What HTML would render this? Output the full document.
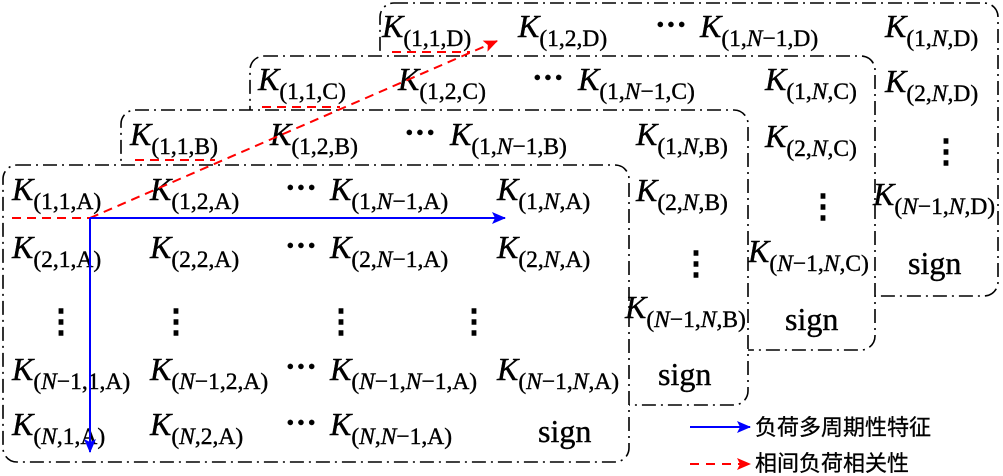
<!DOCTYPE html>
<html><head><meta charset="utf-8"><style>
html,body{margin:0;padding:0;background:#fff;}
svg{display:block;}
text{font-family:"Liberation Serif",serif;font-size:32px;fill:#000;stroke:#000;stroke-width:0.4;}
.s{font-size:23.5px;}
.i{font-style:italic;}
.d{font-weight:bold;}
.cj{font-family:"Liberation Sans","Noto Sans CJK SC",sans-serif;font-size:22px;stroke-width:0.3;}
</style></head><body>
<svg width="1003" height="476" viewBox="0 0 1003 476">
<defs>
<marker id="ab" markerWidth="14" markerHeight="12" refX="13" refY="6" orient="auto" markerUnits="userSpaceOnUse"><path d="M0,0 L14,6 L0,12 L3,6 z" fill="#0000ff"/></marker>
<marker id="ar" markerWidth="14" markerHeight="12" refX="13" refY="6" orient="auto" markerUnits="userSpaceOnUse"><path d="M0,0 L14,6 L0,12 L3,6 z" fill="#ff0000"/></marker>
</defs>
<g fill="#fff" stroke="#000" stroke-width="1.6" stroke-dasharray="14 5 2 5">
<rect x="380" y="3" width="618" height="293" rx="14"/>
<rect x="250" y="56" width="625" height="294" rx="14"/>
<rect x="121" y="110" width="627" height="295" rx="14"/>
<rect x="3" y="165" width="626" height="297" rx="14"/>
</g>
<!-- D -->
<text x="382" y="37"><tspan class="i">K</tspan><tspan class="s" dy="9">(1,1,D)</tspan></text>
<text x="518" y="37"><tspan class="i">K</tspan><tspan class="s" dy="9">(1,2,D)</tspan></text>
<text class="d" x="655" y="35">···</text>
<text x="700" y="37"><tspan class="i">K</tspan><tspan class="s" dy="9">(1,<tspan class="i">N</tspan>−1,D)</tspan></text>
<text x="885" y="37"><tspan class="i">K</tspan><tspan class="s" dy="9">(1,<tspan class="i">N</tspan>,D)</tspan></text>
<text x="885" y="92"><tspan class="i">K</tspan><tspan class="s" dy="9">(2,<tspan class="i">N</tspan>,D)</tspan></text>
<text class="d" x="930" y="162">⋮</text>
<text x="873" y="205"><tspan class="i">K</tspan><tspan class="s" dy="9">(<tspan class="i">N</tspan>−1,<tspan class="i">N</tspan>,D)</tspan></text>
<text x="908" y="274">sign</text>
<!-- C -->
<text x="258" y="90"><tspan class="i">K</tspan><tspan class="s" dy="9">(1,1,C)</tspan></text>
<text x="398" y="90"><tspan class="i">K</tspan><tspan class="s" dy="9">(1,2,C)</tspan></text>
<text class="d" x="532" y="88">···</text>
<text x="578" y="90"><tspan class="i">K</tspan><tspan class="s" dy="9">(1,<tspan class="i">N</tspan>−1,C)</tspan></text>
<text x="765" y="90"><tspan class="i">K</tspan><tspan class="s" dy="9">(1,<tspan class="i">N</tspan>,C)</tspan></text>
<text x="765" y="147"><tspan class="i">K</tspan><tspan class="s" dy="9">(2,<tspan class="i">N</tspan>,C)</tspan></text>
<text class="d" x="807" y="217">⋮</text>
<text x="748" y="262"><tspan class="i">K</tspan><tspan class="s" dy="9">(<tspan class="i">N</tspan>−1,<tspan class="i">N</tspan>,C)</tspan></text>
<text x="785" y="330">sign</text>
<!-- B -->
<text x="130" y="145"><tspan class="i">K</tspan><tspan class="s" dy="9">(1,1,B)</tspan></text>
<text x="270" y="145"><tspan class="i">K</tspan><tspan class="s" dy="9">(1,2,B)</tspan></text>
<text class="d" x="404" y="143">···</text>
<text x="450" y="145"><tspan class="i">K</tspan><tspan class="s" dy="9">(1,<tspan class="i">N</tspan>−1,B)</tspan></text>
<text x="636" y="145"><tspan class="i">K</tspan><tspan class="s" dy="9">(1,<tspan class="i">N</tspan>,B)</tspan></text>
<text x="636" y="201"><tspan class="i">K</tspan><tspan class="s" dy="9">(2,<tspan class="i">N</tspan>,B)</tspan></text>
<text class="d" x="680" y="274">⋮</text>
<text x="625" y="318"><tspan class="i">K</tspan><tspan class="s" dy="9">(<tspan class="i">N</tspan>−1,<tspan class="i">N</tspan>,B)</tspan></text>
<text x="658" y="385">sign</text>
<!-- A -->
<text x="12" y="200"><tspan class="i">K</tspan><tspan class="s" dy="9">(1,1,A)</tspan></text>
<text x="150" y="200"><tspan class="i">K</tspan><tspan class="s" dy="9">(1,2,A)</tspan></text>
<text class="d" x="285" y="198">···</text>
<text x="330" y="200"><tspan class="i">K</tspan><tspan class="s" dy="9">(1,<tspan class="i">N</tspan>−1,A)</tspan></text>
<text x="497" y="200"><tspan class="i">K</tspan><tspan class="s" dy="9">(1,<tspan class="i">N</tspan>,A)</tspan></text>
<text x="12" y="258"><tspan class="i">K</tspan><tspan class="s" dy="9">(2,1,A)</tspan></text>
<text x="150" y="258"><tspan class="i">K</tspan><tspan class="s" dy="9">(2,2,A)</tspan></text>
<text class="d" x="285" y="256">···</text>
<text x="330" y="258"><tspan class="i">K</tspan><tspan class="s" dy="9">(2,<tspan class="i">N</tspan>−1,A)</tspan></text>
<text x="497" y="258"><tspan class="i">K</tspan><tspan class="s" dy="9">(2,<tspan class="i">N</tspan>,A)</tspan></text>
<text class="d" x="45" y="332">⋮</text>
<text class="d" x="160" y="332">⋮</text>
<text class="d" x="325" y="332">⋮</text>
<text class="d" x="458" y="332">⋮</text>
<text x="12" y="380"><tspan class="i">K</tspan><tspan class="s" dy="9">(<tspan class="i">N</tspan>−1,1,A)</tspan></text>
<text x="150" y="380"><tspan class="i">K</tspan><tspan class="s" dy="9">(<tspan class="i">N</tspan>−1,2,A)</tspan></text>
<text class="d" x="285" y="377">···</text>
<text x="330" y="380"><tspan class="i">K</tspan><tspan class="s" dy="9">(<tspan class="i">N</tspan>−1,<tspan class="i">N</tspan>−1,A)</tspan></text>
<text x="497" y="380"><tspan class="i">K</tspan><tspan class="s" dy="9">(<tspan class="i">N</tspan>−1,<tspan class="i">N</tspan>,A)</tspan></text>
<text x="12" y="435"><tspan class="i">K</tspan><tspan class="s" dy="9">(<tspan class="i">N</tspan>,1,A)</tspan></text>
<text x="150" y="435"><tspan class="i">K</tspan><tspan class="s" dy="9">(<tspan class="i">N</tspan>,2,A)</tspan></text>
<text class="d" x="285" y="433">···</text>
<text x="330" y="435"><tspan class="i">K</tspan><tspan class="s" dy="9">(<tspan class="i">N</tspan>,<tspan class="i">N</tspan>−1,A)</tspan></text>
<text x="538" y="442">sign</text>
<!-- arrows -->
<g stroke="#ff0000" stroke-width="2" stroke-dasharray="9 6" fill="none">
<line x1="12" y1="218" x2="90" y2="218"/>
<line x1="135" y1="160" x2="215" y2="160"/>
<line x1="262" y1="107" x2="340" y2="107"/>
<line x1="392" y1="52" x2="470" y2="52"/>
<line x1="90" y1="218" x2="497" y2="41" marker-end="url(#ar)"/>
</g>
<g stroke="#0000ff" stroke-width="2" fill="none">
<line x1="90" y1="218" x2="505" y2="218" marker-end="url(#ab)"/>
<line x1="90" y1="218" x2="90" y2="452" marker-end="url(#ab)"/>
<line x1="690" y1="427" x2="750" y2="427" marker-end="url(#ab)"/>
</g>
<line x1="690" y1="464" x2="750" y2="464" stroke="#ff0000" stroke-width="2" stroke-dasharray="9 7" marker-end="url(#ar)"/>
<text class="cj" x="755" y="435">负荷多周期性特征</text>
<text class="cj" x="755" y="471">相间负荷相关性</text>
</svg>
</body></html>
